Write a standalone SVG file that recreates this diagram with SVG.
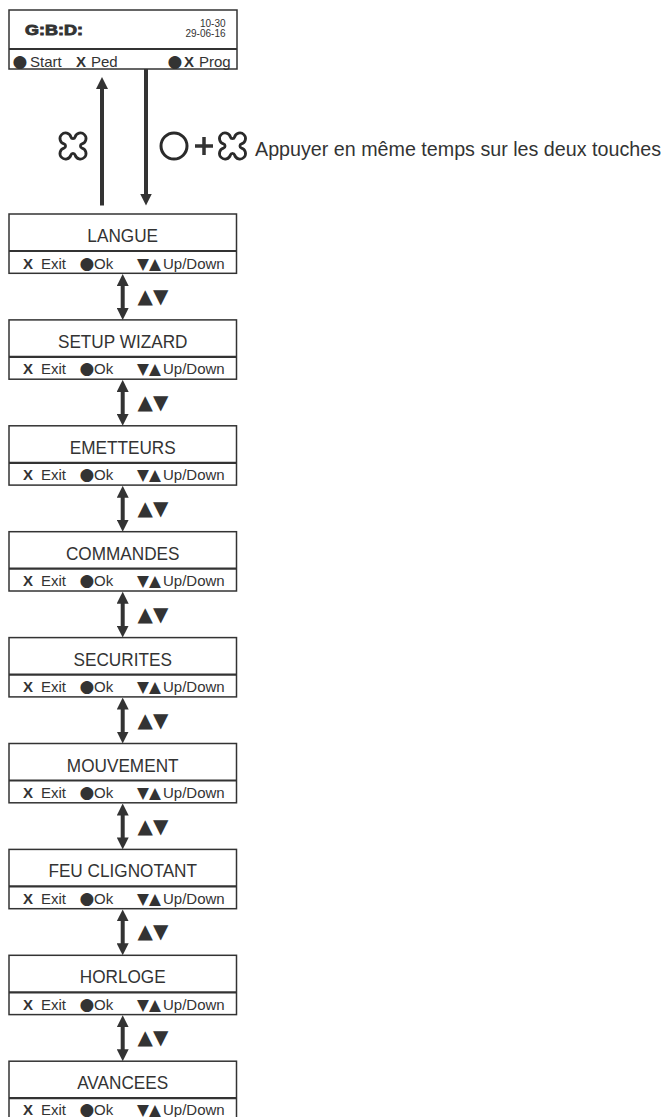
<svg xmlns="http://www.w3.org/2000/svg" width="664" height="1117" viewBox="0 0 664 1117">
<style>
.box{fill:#fff;stroke:#333;stroke-width:1.5}
.div{stroke:#333;stroke-width:2.2}
text{font-family:"Liberation Sans",Arial,sans-serif;fill:#333}
.title{font-size:19px;text-anchor:middle}
.row{font-size:15px}
.bx{font-weight:bold}
.sym{font-family:"DejaVu Sans",sans-serif;font-size:17px}
.sym2{font-family:"DejaVu Sans",sans-serif;font-size:15.5px}
.side{font-family:"DejaVu Sans",sans-serif;font-size:20px}
.shaft{stroke:#333;stroke-width:4;fill:none}
.dbl{stroke:#333;stroke-width:4;fill:none;marker-start:url(#ah);marker-end:url(#ah)}
.key{fill:#fff;stroke:#2a2a2a;stroke-width:3}
</style>
<defs>
<marker id="ah" viewBox="0 0 12 12" markerWidth="12" markerHeight="12" refX="4" refY="6" markerUnits="userSpaceOnUse" orient="auto-start-reverse">
<path d="M0,0 L12,6 L0,12 Z" fill="#333"/>
</marker>
<path id="cross" d="M-2.24,-9.68 A2.33 2.33 0 0 0 2.24,-9.68 A6 6 0 1 1 9.68,-2.24 A2.33 2.33 0 0 0 9.68,2.24 A6 6 0 1 1 2.24,9.68 A2.33 2.33 0 0 0 -2.24,9.68 A6 6 0 1 1 -9.68,2.24 A2.33 2.33 0 0 0 -9.68,-2.24 A6 6 0 1 1 -2.24,-9.68 Z"/>
</defs>

<g id="display">
<rect class="box" x="9" y="10" width="228" height="59"/>
<line class="div" x1="9" y1="49" x2="237" y2="49"/>
<text x="25" y="35" font-size="15" font-weight="900" stroke="#333" stroke-width="0.9" textLength="58" lengthAdjust="spacingAndGlyphs">G:B:D:</text>
<text x="225.5" y="27.3" font-size="10" text-anchor="end">10-30</text>
<text x="225.5" y="37" font-size="10" text-anchor="end">29-06-16</text>
<text class="row" y="66.5"><tspan class="sym" x="12.5">●</tspan><tspan x="30">Start</tspan><tspan class="bx" x="76">X</tspan><tspan x="91">Ped</tspan><tspan class="sym" x="167.5">●</tspan><tspan class="bx" x="184">X</tspan><tspan x="199">Prog</tspan></text>
</g>

<g id="instruction">
<use href="#cross" class="key" transform="translate(73,146) scale(0.93)"/>
<circle cx="174" cy="146" r="13" fill="none" stroke="#2a2a2a" stroke-width="3"/>
<path d="M195,146 H213 M204,137 V155" stroke="#333" stroke-width="3.5"/>
<use href="#cross" class="key" transform="translate(232.5,146) scale(0.93)"/>
<text x="255" y="156" font-size="19.7">Appuyer en même temps sur les deux touches</text>
</g>

<g id="n-langue" transform="translate(0,214)">
<rect class="box" x="9" y="0" width="227.5" height="59.3"/><line class="div" x1="9" y1="37" x2="236.5" y2="37"/>
<text class="title" transform="translate(122.7,28) scale(0.905,1)">LANGUE</text>
<text class="row" y="54.5"><tspan class="bx" x="23">X</tspan><tspan x="41">Exit</tspan><tspan class="sym" x="79.5">●</tspan><tspan x="94">Ok</tspan><tspan class="sym2" x="137">▼▲</tspan><tspan x="163">Up/Down</tspan></text>
</g>
<g id="n-setup" transform="translate(0,319.9)">
<rect class="box" x="9" y="0" width="227.5" height="59.3"/><line class="div" x1="9" y1="37" x2="236.5" y2="37"/>
<text class="title" transform="translate(122.7,28) scale(0.905,1)">SETUP WIZARD</text>
<text class="row" y="54.5"><tspan class="bx" x="23">X</tspan><tspan x="41">Exit</tspan><tspan class="sym" x="79.5">●</tspan><tspan x="94">Ok</tspan><tspan class="sym2" x="137">▼▲</tspan><tspan x="163">Up/Down</tspan></text>
</g>
<g id="n-emetteurs" transform="translate(0,425.8)">
<rect class="box" x="9" y="0" width="227.5" height="59.3"/><line class="div" x1="9" y1="37" x2="236.5" y2="37"/>
<text class="title" transform="translate(122.7,28) scale(0.905,1)">EMETTEURS</text>
<text class="row" y="54.5"><tspan class="bx" x="23">X</tspan><tspan x="41">Exit</tspan><tspan class="sym" x="79.5">●</tspan><tspan x="94">Ok</tspan><tspan class="sym2" x="137">▼▲</tspan><tspan x="163">Up/Down</tspan></text>
</g>
<g id="n-commandes" transform="translate(0,531.7)">
<rect class="box" x="9" y="0" width="227.5" height="59.3"/><line class="div" x1="9" y1="37" x2="236.5" y2="37"/>
<text class="title" transform="translate(122.7,28) scale(0.905,1)">COMMANDES</text>
<text class="row" y="54.5"><tspan class="bx" x="23">X</tspan><tspan x="41">Exit</tspan><tspan class="sym" x="79.5">●</tspan><tspan x="94">Ok</tspan><tspan class="sym2" x="137">▼▲</tspan><tspan x="163">Up/Down</tspan></text>
</g>
<g id="n-securites" transform="translate(0,637.6)">
<rect class="box" x="9" y="0" width="227.5" height="59.3"/><line class="div" x1="9" y1="37" x2="236.5" y2="37"/>
<text class="title" transform="translate(122.7,28) scale(0.905,1)">SECURITES</text>
<text class="row" y="54.5"><tspan class="bx" x="23">X</tspan><tspan x="41">Exit</tspan><tspan class="sym" x="79.5">●</tspan><tspan x="94">Ok</tspan><tspan class="sym2" x="137">▼▲</tspan><tspan x="163">Up/Down</tspan></text>
</g>
<g id="n-mouvement" transform="translate(0,743.5)">
<rect class="box" x="9" y="0" width="227.5" height="59.3"/><line class="div" x1="9" y1="37" x2="236.5" y2="37"/>
<text class="title" transform="translate(122.7,28) scale(0.905,1)">MOUVEMENT</text>
<text class="row" y="54.5"><tspan class="bx" x="23">X</tspan><tspan x="41">Exit</tspan><tspan class="sym" x="79.5">●</tspan><tspan x="94">Ok</tspan><tspan class="sym2" x="137">▼▲</tspan><tspan x="163">Up/Down</tspan></text>
</g>
<g id="n-feu" transform="translate(0,849.4)">
<rect class="box" x="9" y="0" width="227.5" height="59.3"/><line class="div" x1="9" y1="37" x2="236.5" y2="37"/>
<text class="title" transform="translate(122.7,28) scale(0.905,1)">FEU CLIGNOTANT</text>
<text class="row" y="54.5"><tspan class="bx" x="23">X</tspan><tspan x="41">Exit</tspan><tspan class="sym" x="79.5">●</tspan><tspan x="94">Ok</tspan><tspan class="sym2" x="137">▼▲</tspan><tspan x="163">Up/Down</tspan></text>
</g>
<g id="n-horloge" transform="translate(0,955.3)">
<rect class="box" x="9" y="0" width="227.5" height="59.3"/><line class="div" x1="9" y1="37" x2="236.5" y2="37"/>
<text class="title" transform="translate(122.7,28) scale(0.905,1)">HORLOGE</text>
<text class="row" y="54.5"><tspan class="bx" x="23">X</tspan><tspan x="41">Exit</tspan><tspan class="sym" x="79.5">●</tspan><tspan x="94">Ok</tspan><tspan class="sym2" x="137">▼▲</tspan><tspan x="163">Up/Down</tspan></text>
</g>
<g id="n-avancees" transform="translate(0,1061.2)">
<rect class="box" x="9" y="0" width="227.5" height="59.3"/><line class="div" x1="9" y1="37" x2="236.5" y2="37"/>
<text class="title" transform="translate(122.7,28) scale(0.905,1)">AVANCEES</text>
<text class="row" y="53.5"><tspan class="bx" x="23">X</tspan><tspan x="41">Exit</tspan><tspan class="sym" x="79.5">●</tspan><tspan x="94">Ok</tspan><tspan class="sym2" x="137">▼▲</tspan><tspan x="163">Up/Down</tspan></text>
</g>

<g id="connectors">
<path d="M102,205.5 V85" class="shaft" marker-end="url(#ah)"/>
<path d="M146,69 V197.5" class="shaft" marker-end="url(#ah)"/>
<path class="dbl" d="M122.7,282 V311.9"/>
<path class="dbl" d="M122.7,387.9 V417.8"/>
<path class="dbl" d="M122.7,493.8 V523.7"/>
<path class="dbl" d="M122.7,599.7 V629.6"/>
<path class="dbl" d="M122.7,705.6 V735.5"/>
<path class="dbl" d="M122.7,811.5 V841.4"/>
<path class="dbl" d="M122.7,917.4 V947.3"/>
<path class="dbl" d="M122.7,1023.3 V1053.2"/>
<text class="side" x="137.5" y="303">▲▼</text>
<text class="side" x="137.5" y="408.9">▲▼</text>
<text class="side" x="137.5" y="514.8">▲▼</text>
<text class="side" x="137.5" y="620.7">▲▼</text>
<text class="side" x="137.5" y="726.6">▲▼</text>
<text class="side" x="137.5" y="832.5">▲▼</text>
<text class="side" x="137.5" y="938.4">▲▼</text>
<text class="side" x="137.5" y="1044.3">▲▼</text>
</g>
</svg>
